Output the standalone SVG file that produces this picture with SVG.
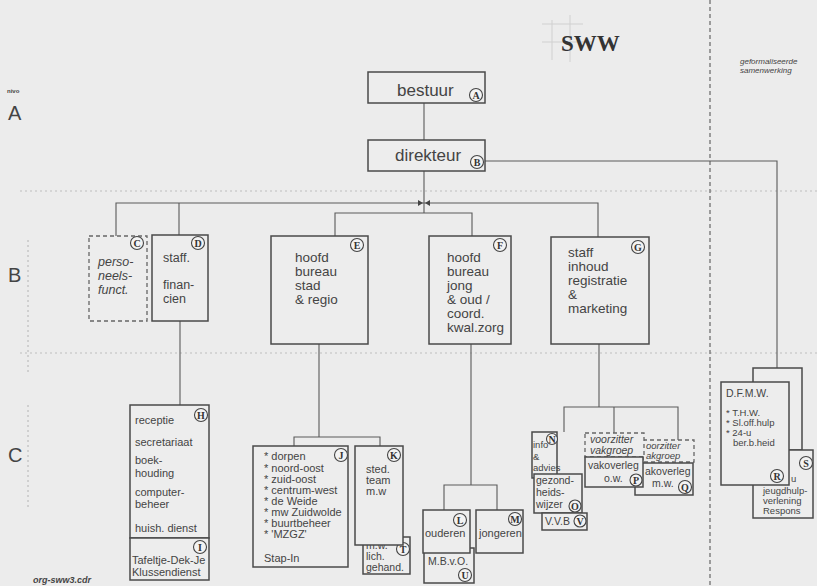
<svg xmlns="http://www.w3.org/2000/svg" width="817" height="586" viewBox="0 0 817 586">
<style>
text{font-family:"Liberation Sans",Arial,sans-serif;fill:#444}
.bx{fill:#ededed;stroke:#4a4a4a;stroke-width:1.5}
.dbx{fill:#ededed;stroke:#666;stroke-width:1.3;stroke-dasharray:4 3}
.ln{fill:none;stroke:#5a5a5a;stroke-width:1.1}
.dot{fill:none;stroke:#bdbdbd;stroke-width:1.2;stroke-dasharray:2 3}
.grid{fill:none;stroke:#d0d0d0;stroke-width:1}
.cc{fill:#f3f3f3;stroke:#444;stroke-width:1.1}
.cl{font-family:"Liberation Serif","Times New Roman",serif;font-weight:bold;font-size:10px;text-anchor:middle;fill:#333}
.t14{font-size:13.5px}
.t13{font-size:12.5px}
.t11{font-size:11px}
.t10{font-size:10.5px}
.t9{font-size:9.5px}
.it{font-style:italic}
</style>
<rect x="0" y="0" width="817" height="586" fill="#ececec"/>

<g id="background-guides">
<line class="dot" x1="20" y1="191" x2="817" y2="191"/>
<line class="dot" x1="20" y1="353" x2="817" y2="353"/>
<line class="dot" x1="28" y1="240" x2="28" y2="375"/>
<line class="dot" x1="28" y1="405" x2="28" y2="510"/>
<line x1="710" y1="0" x2="710" y2="586" stroke="#666" stroke-width="1.2" stroke-dasharray="4 3"/>
<line class="grid" x1="542" y1="24" x2="583" y2="24"/>
<line class="grid" x1="542" y1="42" x2="592" y2="42"/>
<line class="grid" x1="552" y1="20" x2="552" y2="60"/>
<line class="grid" x1="570" y1="15" x2="570" y2="62"/>
<text x="561" y="51" font-size="23" font-weight="bold" style="font-family:'Liberation Serif','Times New Roman',serif;fill:#333">SWW</text>
<text class="it" x="740" y="64" font-size="8">geformaliseerde</text>
<text class="it" x="740" y="73" font-size="8">samenwerking</text>
<text x="7" y="93" font-size="6" font-weight="bold">nivo</text>
<text x="8" y="120" font-size="20">A</text>
<text x="8" y="282" font-size="20">B</text>
<text x="8" y="462" font-size="20">C</text>
<text x="33" y="583" font-size="9" font-weight="bold" font-style="italic">org-sww3.cdr</text>
</g>

<g id="connectors">
<line class="ln" x1="424" y1="103" x2="424" y2="140"/>
<line class="ln" x1="424" y1="171" x2="424" y2="213"/>
<polyline class="ln" points="116,236 116,203 598,203 598,237"/>
<line class="ln" x1="179" y1="203" x2="179" y2="235"/>
<polygon points="418,200 423,203 418,206" fill="#444"/>
<polygon points="430,200 425,203 430,206" fill="#444"/>
<polyline class="ln" points="335,236 335,213 472,213 472,236"/>
<polyline class="ln" points="485,161 777,161 777,368"/>
<line class="ln" x1="180" y1="321" x2="180" y2="405"/>
<polyline class="ln" points="319,344 319,437"/>
<polyline class="ln" points="294,446 294,437 380,437 380,446"/>
<line class="ln" x1="471" y1="344" x2="471" y2="485"/>
<polyline class="ln" points="444,510 444,485 497,485 497,510"/>
<line class="ln" x1="599" y1="344" x2="599" y2="407"/>
<polyline class="ln" points="564,432 564,407 678,407 678,440"/>
<line class="ln" x1="614" y1="407" x2="614" y2="433"/>
</g>

<g id="node-A">
<rect class="bx" x="368" y="72" width="117" height="31"/>
<text x="397" y="96" font-size="17">bestuur</text>
<circle class="cc" cx="476" cy="95" r="6.5"/><text class="cl" x="476" y="98.5">A</text>
</g>

<g id="node-B">
<rect class="bx" x="368" y="140" width="117" height="31"/>
<text x="395" y="161" font-size="17">direkteur</text>
<circle class="cc" cx="477" cy="162" r="6.5"/><text class="cl" x="477" y="165.5">B</text>
</g>

<g id="node-C">
<rect class="dbx" x="89" y="236" width="58" height="85"/>
<text class="t13 it" x="98" y="266">perso-</text>
<text class="t13 it" x="98" y="280">neels-</text>
<text class="t13 it" x="98" y="294">funct.</text>
<circle class="cc" cx="137" cy="243" r="6.5"/><text class="cl" x="137" y="246.5">C</text>
</g>

<g id="node-D">
<rect class="bx" x="152" y="235" width="56" height="86"/>
<text class="t13" x="163" y="262">staff.</text>
<text class="t13" x="163" y="289">finan-</text>
<text class="t13" x="163" y="303">cien</text>
<circle class="cc" cx="198" cy="243" r="6.5"/><text class="cl" x="198" y="246.5">D</text>
</g>

<g id="node-E">
<rect class="bx" x="271" y="236" width="97" height="108"/>
<text class="t14" x="295" y="262">hoofd</text>
<text class="t14" x="295" y="276">bureau</text>
<text class="t14" x="295" y="290">stad</text>
<text class="t14" x="295" y="304">&amp; regio</text>
<circle class="cc" cx="357" cy="245" r="6.5"/><text class="cl" x="357" y="248.5">E</text>
</g>

<g id="node-F">
<rect class="bx" x="429" y="236" width="82" height="108"/>
<text class="t14" x="447" y="262">hoofd</text>
<text class="t14" x="447" y="276">bureau</text>
<text class="t14" x="447" y="290">jong</text>
<text class="t14" x="447" y="304">&amp; oud /</text>
<text class="t14" x="447" y="318">coord.</text>
<text class="t14" x="447" y="332">kwal.zorg</text>
<circle class="cc" cx="500" cy="245" r="6.5"/><text class="cl" x="500" y="248.5">F</text>
</g>

<g id="node-G">
<rect class="bx" x="551" y="237" width="98" height="107"/>
<text class="t14" x="568" y="257">staff</text>
<text class="t14" x="568" y="271">inhoud</text>
<text class="t14" x="568" y="285">registratie</text>
<text class="t14" x="568" y="299">&amp;</text>
<text class="t14" x="568" y="313">marketing</text>
<circle class="cc" cx="638" cy="247" r="6.5"/><text class="cl" x="638" y="250.5">G</text>
</g>

<g id="node-H">
<rect class="bx" x="130" y="405" width="79" height="133"/>
<text class="t11" x="135" y="424">receptie</text>
<text class="t11" x="135" y="446">secretariaat</text>
<text class="t11" x="135" y="464">boek-</text>
<text class="t11" x="135" y="477">houding</text>
<text class="t11" x="135" y="496">computer-</text>
<text class="t11" x="135" y="508">beheer</text>
<text class="t11" x="135" y="532">huish. dienst</text>
<circle class="cc" cx="201" cy="415" r="6.5"/><text class="cl" x="201" y="418.5">H</text>
</g>

<g id="node-I">
<rect class="bx" x="130" y="538" width="79" height="42"/>
<text class="t11" x="132" y="564">Tafeltje-Dek-Je</text>
<text class="t11" x="132" y="576">Klussendienst</text>
<circle class="cc" cx="200" cy="547" r="6.5"/><text class="cl" x="200" y="550.5">I</text>
</g>

<g id="node-J">
<rect class="bx" x="253" y="446" width="95" height="121"/>
<text class="t11" x="264" y="460">* dorpen</text>
<text class="t11" x="264" y="472">* noord-oost</text>
<text class="t11" x="264" y="483">* zuid-oost</text>
<text class="t11" x="264" y="494">* centrum-west</text>
<text class="t11" x="264" y="505">* de Weide</text>
<text class="t11" x="264" y="516">* mw Zuidwolde</text>
<text class="t11" x="264" y="527">* buurtbeheer</text>
<text class="t11" x="264" y="538">* 'MZGZ'</text>
<text class="t11" x="264" y="562">Stap-In</text>
<circle class="cc" cx="341" cy="455" r="6.5"/><text class="cl" x="341" y="458.5">J</text>
</g>

<g id="node-T">
<rect class="bx" x="363" y="537" width="47" height="37"/>
<text class="t10" x="366" y="549">m.w.</text>
<text class="t10" x="366" y="560">lich.</text>
<text class="t10" x="366" y="571">gehand.</text>
<circle class="cc" cx="403" cy="549" r="6.5"/><text class="cl" x="403" y="552.5">T</text>
</g>

<g id="node-K">
<rect class="bx" x="355" y="446" width="48" height="99"/>
<text class="t11" x="366" y="473">sted.</text>
<text class="t11" x="366" y="484">team</text>
<text class="t11" x="366" y="495">m.w</text>
<circle class="cc" cx="394" cy="455" r="6.5"/><text class="cl" x="394" y="458.5">K</text>
</g>

<g id="node-U">
<rect class="bx" x="424" y="548" width="50" height="35"/>
<text class="t10" x="428" y="565">M.B.v.O.</text>
<circle class="cc" cx="465" cy="575" r="6.5"/><text class="cl" x="465" y="578.5">U</text>
</g>

<g id="node-L">
<rect class="bx" x="423" y="510" width="47" height="43"/>
<text class="t11" x="425" y="537">ouderen</text>
<circle class="cc" cx="460" cy="520" r="6.5"/><text class="cl" x="460" y="523.5">L</text>
</g>

<g id="node-M">
<rect class="bx" x="476" y="510" width="47" height="43"/>
<text class="t11" x="479" y="537">jongeren</text>
<circle class="cc" cx="515" cy="519" r="6.5"/><text class="cl" x="515" y="522.5">M</text>
</g>

<g id="node-N">
<rect class="bx" x="532" y="432" width="25" height="46"/>
<text class="t9" x="533" y="448">info</text>
<text class="t9" x="533" y="460">&amp;</text>
<text class="t9" x="533" y="471">advies</text>
<circle class="cc" cx="552" cy="439" r="5.5"/><text class="cl" x="552" y="442.5">N</text>
</g>

<g id="node-O">
<rect class="bx" x="534" y="474" width="48" height="39"/>
<text class="t10" x="536" y="484">gezond-</text>
<text class="t10" x="536" y="496">heids-</text>
<text class="t10" x="536" y="508">wijzer</text>
<circle class="cc" cx="575" cy="506" r="6"/><text class="cl" x="575" y="509.5">O</text>
</g>

<g id="node-V">
<rect class="bx" x="542" y="513" width="45" height="17"/>
<text class="t10" x="545" y="525">V.V.B</text>
<circle class="cc" cx="580" cy="521" r="6"/><text class="cl" x="580" y="524.5">V</text>
</g>

<g id="node-Q">
<rect class="dbx" x="643" y="440" width="51" height="22"/>
<text class="t9 it" x="646" y="449">oorzitter</text>
<text class="t9 it" x="646" y="459">akgroep</text>
<rect class="bx" x="635" y="463" width="58" height="32"/>
<text class="t10" x="645" y="475">akoverleg</text>
<text class="t10" x="652" y="487">m.w.</text>
<circle class="cc" cx="685" cy="487" r="6.5"/><text class="cl" x="685" y="490.5">Q</text>
</g>

<g id="node-P">
<rect class="dbx" x="585" y="433" width="59" height="24"/>
<text class="t10 it" x="590" y="443">voorzitter</text>
<text class="t10 it" x="590" y="454">vakgroep</text>
<rect class="bx" x="585" y="457" width="58" height="30"/>
<text class="t10" x="588" y="469">vakoverleg</text>
<text class="t10" x="604" y="482">o.w.</text>
<circle class="cc" cx="636" cy="480" r="6"/><text class="cl" x="636" y="483.5">P</text>
</g>

<g id="node-S">
<path class="bx" d="M753,450 V368 H802 V450 Z"/>
<rect class="bx" x="753" y="450" width="60" height="68"/>
<text class="t9" x="791" y="482">u</text>
<text class="t9" x="763" y="494">jeugdhulp-</text>
<text class="t9" x="763" y="504">verlening</text>
<text class="t9" x="763" y="514">Respons</text>
<circle class="cc" cx="806" cy="463" r="6.5"/><text class="cl" x="806" y="466.5">S</text>
</g>

<g id="node-R">
<rect class="bx" x="721" y="382" width="68" height="103"/>
<text class="t10" x="726" y="397">D.F.M.W.</text>
<text class="t9" x="726" y="416">* T.H.W.</text>
<text class="t9" x="726" y="426">* Sl.off.hulp</text>
<text class="t9" x="726" y="436">* 24-u</text>
<text class="t9" x="733" y="446">ber.b.heid</text>
<circle class="cc" cx="777" cy="476" r="6.5"/><text class="cl" x="777" y="479.5">R</text>
</g>
</svg>
